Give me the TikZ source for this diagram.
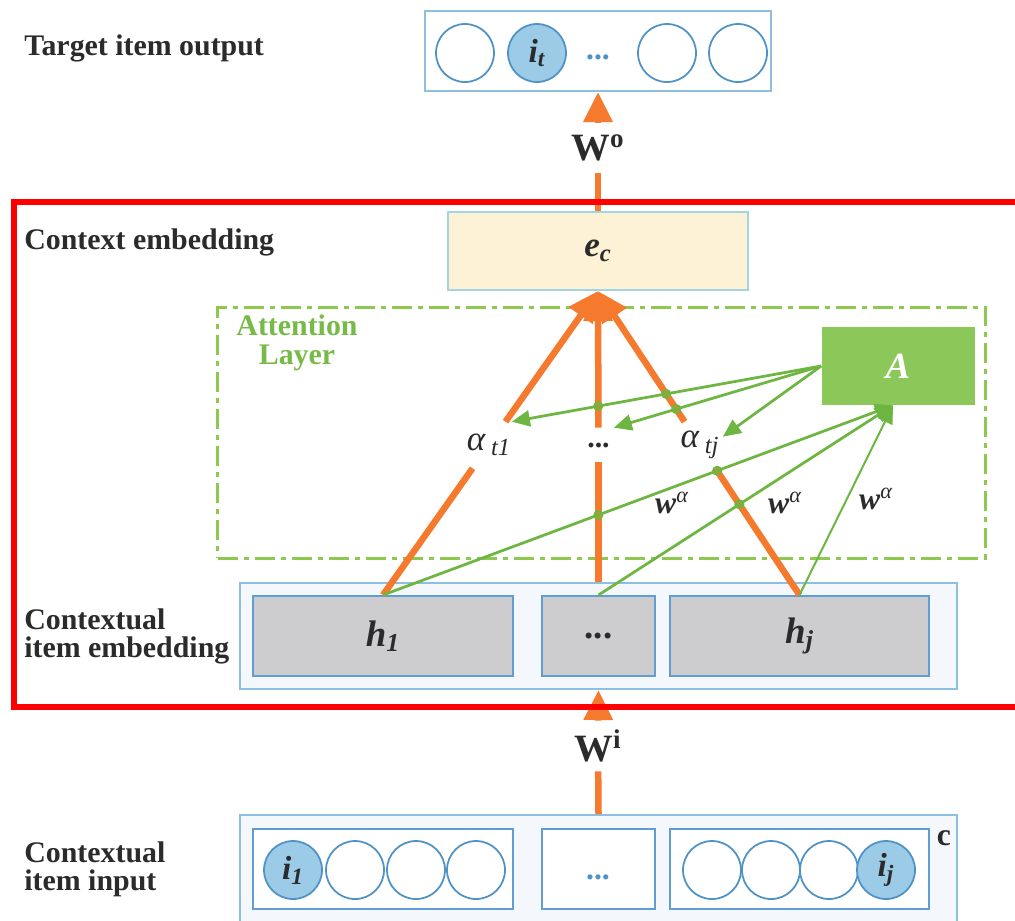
\documentclass[tikz,border=0pt]{standalone}
\usepackage{fontspec}
\setmainfont{Liberation Serif}
\usetikzlibrary{positioning,arrows.meta,intersections}

\definecolor{textGray}{HTML}{2B2B2B}
\definecolor{layerEdge}{HTML}{8EBEE0}
\definecolor{layerFill}{HTML}{F4F8FC}
\definecolor{cellEdge}{HTML}{5E9ED2}
\definecolor{cellGray}{HTML}{CDCDD0}
\definecolor{itemEdge}{HTML}{4E92C6}
\definecolor{itemFill}{HTML}{9CCBE8}
\definecolor{ecEdge}{HTML}{A3D4E2}
\definecolor{ecFill}{HTML}{FDF1D6}
\definecolor{flowOrange}{HTML}{F57A2D}
\definecolor{attGreen}{HTML}{6DB641}
\definecolor{attEdge}{HTML}{8DC94F}
\definecolor{attText}{HTML}{78BA48}
\definecolor{aFill}{HTML}{8CC75A}
\definecolor{frameRed}{HTML}{FF0000}

\begin{document}
\begin{tikzpicture}[x=0.2mm, y=-0.2mm,
  sidetext/.style={font=\fontsize{17}{16}\selectfont\bfseries, text=textGray, align=left, anchor=west, inner sep=0pt},
  layer/.style={draw=layerEdge, line width=0.4mm, fill=layerFill, inner sep=0pt},
  cell/.style={draw=cellEdge, line width=0.4mm, inner sep=0pt, minimum height=16mm},
  hcell/.style={cell, fill=cellGray, text=textGray, font=\fontsize{21}{21}\selectfont\bfseries\itshape},
  item/.style={circle, draw=itemEdge, line width=0.35mm, fill=white, minimum size=11.6mm, inner sep=0pt, text=textGray, font=\fontsize{19}{19}\selectfont\bfseries\itshape},
  hotitem/.style={item, fill=itemFill},
  bluedots/.style={text=itemEdge, inner sep=0pt, font=\fontsize{18}{18}\selectfont\bfseries},
  weight/.style={text=textGray, inner sep=0pt, minimum height=10mm, font=\fontsize{22}{22}\selectfont\bfseries},
  flow/.style={draw=flowOrange, line width=1.3mm},
  flowtip/.style={flow, -{Triangle[width=5.6mm,length=6mm]}},
  score/.style={text=textGray, inner sep=0pt, minimum width=9mm, minimum height=9.2mm, font=\fontsize{20}{20}\selectfont\itshape},
  attline/.style={draw=attGreen, line width=0.55mm, -{Triangle[width=3.2mm,length=3.6mm]}},
  wlabel/.style={text=textGray, inner sep=0pt, font=\fontsize{18}{18}\selectfont\bfseries\itshape},
  hop/.style={draw=attGreen, line width=0.4mm},
]
  \useasboundingbox (0,0) rectangle (1015,920);

  % target item output
  \node[sidetext] (tgtlbl) at (24,48) {Target item output};
  \node[layer, fill=white, minimum width=69.2mm, minimum height=16mm] (out) at (598,51) {};
  \node[item] (o1) at (465,53) {};
  \node[hotitem] (o2) at (537,53) {i\textsubscript{t}};
  \node[bluedots] (odots) at (598,57) {...};
  \node[item] (o3) at (667,53) {};
  \node[item] (o4) at (738,53) {};

  % context embedding
  \node[sidetext] (ctxlbl) at (24,242) {Context embedding};
  \node[draw=ecEdge, line width=0.4mm, fill=ecFill, minimum width=60mm, minimum height=15.6mm, text=textGray, font=\fontsize{20}{20}\selectfont\bfseries\itshape] (ec) at (598,251) {e\textsubscript{c}};
  \node[weight] (Wo) at (598,148) {W\textsuperscript{o}};
  \draw[flow] (ec.north) -- (Wo);
  \draw[flowtip] (Wo) -- (out.south);

  % attention layer
  \node[draw=attEdge, line width=0.6mm, dash pattern=on 4mm off 1.2mm on 1mm off 1.2mm, minimum width=153.4mm, minimum height=50.2mm] (attn) at (601.5,432.5) {};
  \node[text=attText, align=center, inner sep=0pt, font=\fontsize{17}{16.5}\selectfont\bfseries] (attlbl) at (297,343) {Attention\\Layer};
  \node[fill=aFill, minimum width=30.6mm, minimum height=15.6mm, text=white, font=\fontsize{21}{21}\selectfont\bfseries\itshape] (A) at (898,366) {A};

  % contextual item embedding
  \node[sidetext] (emblbl) at (24,636) {Contextual\\item embedding};
  \node[layer, minimum width=143.4mm, minimum height=21.2mm] (emb) at (598.5,636) {};
  \node[hcell, minimum width=52mm] (h1) at (383,636) {h\textsubscript{1}};
  \node[hcell, minimum width=22.6mm] (hd) at (598.5,636) {\upshape ...};
  \node[hcell, minimum width=51.8mm] (hj) at (799.5,636) {h\textsubscript{j}};

  % attention scores
  \node[score] (at1) at (489,445) {α\,\textsubscript{t1}};
  \node[score, minimum width=6mm, minimum height=6.8mm, font=\fontsize{17}{17}\selectfont\bfseries] (adots) at (598.5,445) {...};
  \node[score] (atj) at (700,445) {α\,\textsubscript{tj}};

  \draw[flow] (h1.north) -- (at1);
  \draw[flowtip] (at1) -- (ec.south);
  \draw[flow] (emb.north) -- (adots);
  \draw[flowtip] (adots) -- (ec.south);
  \draw[flow] (hj.north) -- (atj);
  \draw[flowtip] (atj) -- (ec.south);
  \path[name path=oM] (emb.north) -- (ec.south);
  \path[name path=oR] (hj.north) -- (ec.south);

  \coordinate (Ain) at ([xshift=-1mm]A.south);
  \draw[attline, name path=g1] (A.west) -- (at1.north east);
  \draw[attline, name path=g2] (A.west) -- (adots.north east);
  \draw[attline] (A.west) -- (atj.20);
  \draw[attline, name path=g3] (h1.north) -- (Ain);
  \draw[attline, name path=g4] (hd.north) -- (Ain);
  \draw[attline, line width=0.4mm] (hj.north) -- (Ain);

  \draw[hop, name intersections={of=g1 and oM, by=x1}] (x1) circle[radius=0.8mm];
  \draw[hop, name intersections={of=g1 and oR, by=x2}] (x2) circle[radius=0.8mm];
  \draw[hop, name intersections={of=g2 and oR, by=x3}] (x3) circle[radius=0.8mm];
  \draw[hop, name intersections={of=g3 and oM, by=x4}] (x4) circle[radius=0.8mm];
  \draw[hop, name intersections={of=g3 and oR, by=x5}] (x5) circle[radius=0.8mm];
  \draw[hop, name intersections={of=g4 and oR, by=x6}] (x6) circle[radius=0.8mm];

  \node[wlabel] (w1) at (672,503) {w\textsuperscript{\mdseries α}};
  \node[wlabel] (w2) at (785,503) {w\textsuperscript{\mdseries α}};
  \node[wlabel] (w3) at (876,499) {w\textsuperscript{\mdseries α}};

  % contextual item input
  \node[weight] (Wi) at (598,746) {W\textsuperscript{i}};
  \node[sidetext] (inlbl) at (24,869) {Contextual\\item input};
  \node[layer, minimum width=143.4mm, minimum height=24mm] (inp) at (598.5,875) {};
  \node[cell, fill=white, minimum width=52mm] (c1) at (383,869) {};
  \node[cell, fill=white, minimum width=22.6mm] (cd) at (598.5,869) {};
  \node[cell, fill=white, minimum width=51.8mm] (cj) at (799.5,869) {};
  \node[hotitem] (i1) at (293,870) {i\textsubscript{1}};
  \node[item] (i2) at (355,870) {};
  \node[item] (i3) at (416,870) {};
  \node[item] (i4) at (476,870) {};
  \node[bluedots] (idots) at (598,877) {...};
  \node[item] (i5) at (712,870) {};
  \node[item] (i6) at (771,870) {};
  \node[item] (i7) at (829,870) {};
  \node[hotitem] (i8) at (886,870) {i\textsubscript{j}};
  \node[text=textGray, font=\fontsize{18}{18}\selectfont\bfseries] (clbl) at (944,838) {c};
  \draw[flow] (inp.north) -- (Wi);
  \draw[flowtip] (Wi) -- (emb.south);

  % red frame
  \draw[frameRed, line width=1.2mm] (1040,202) -- (14,202) -- (14,707) -- (1040,707);
\end{tikzpicture}
\end{document}
